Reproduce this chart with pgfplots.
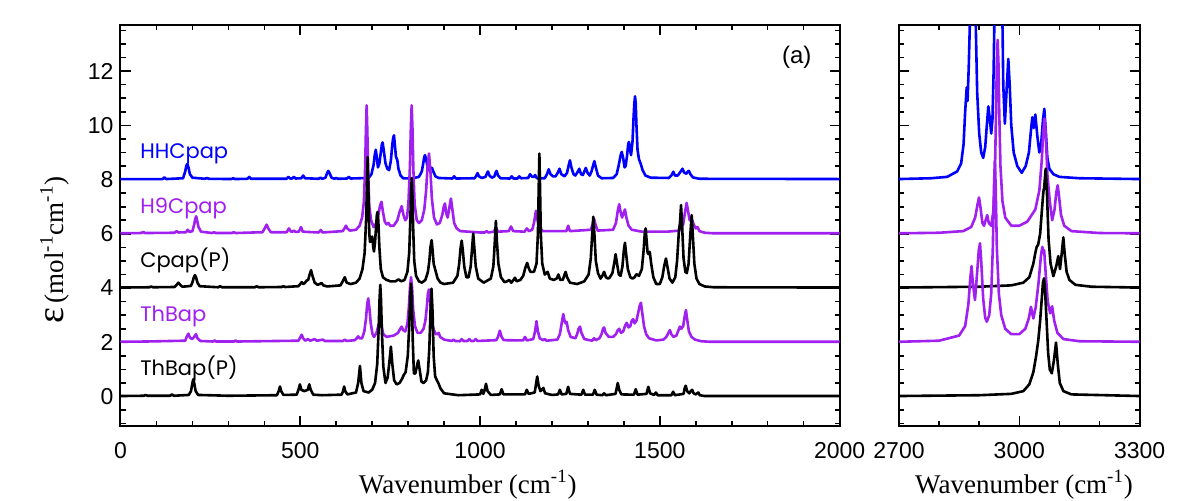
\documentclass[border=0pt]{standalone}
\usepackage{fontspec}
\usepackage{pgfplots}
\pgfplotsset{compat=1.18}
\setmainfont{Liberation Serif}
\newfontfamily\ticksf{Liberation Sans}
\newfontfamily\lblsf{Poppins}
\definecolor{myblue}{RGB}{0,0,255}
\definecolor{mypurple}{RGB}{160,32,240}
\pgfplotsset{
 myaxis/.style={
  scale only axis, height=200.7pt, ymin=-1.1, ymax=13.7,
  axis line style={line width=1pt},
  tick style={line width=0.8pt, black},
  major tick length=5pt, minor tick length=2.5pt,
  tick align=inside,
  ytick={0,2,...,12}, minor ytick={-1,-0.5,...,13.5},
  tick label style={font=\ticksf\fontsize{11.5}{12}\selectfont},
  xticklabel style={yshift=-4.5pt},
  /pgf/number format/assume math mode=true,
  /pgf/number format/1000 sep={},
  every axis x label/.style={at={(axis description cs:0.5,0)}, anchor=base, yshift=-33.5pt, font=\fontsize{13.5}{14}\selectfont},
  clip=true,
  every axis plot/.append style={line width=1.3pt, line join=round, mark=none},
 },
}
\tikzset{lbl/.style={anchor=base west, inner sep=0pt, font=\lblsf\fontsize{10.5}{11}\selectfont}}
\begin{document}
\begin{tikzpicture}
\useasboundingbox (0,0) rectangle (600pt,250pt);
% ---------------- left panel ----------------
\begin{axis}[myaxis, at={(60.25pt,36.8pt)}, anchor=south west, width=359.55pt,
  xmin=0, xmax=2000, xtick={0,500,1000,1500,2000}, minor xtick={0,100,...,2000},
  xlabel={Wavenumber (cm\textsuperscript{-1})},
  every axis x label/.append style={at={(axis description cs:0.483,0)}},
]
% HHCpap
\addplot[myblue] coordinates {(0,8.02) (117,8.02) (122,8.08) (127,8.02) (174,8.05) (180,8.3) (183,8.5) (186,8.58) (189,8.45) (193,8.2) (200,8.07) (235,8.03) (240,8.06) (245,8.03) (308,8.02) (313,8.05) (318,8.02) (353,8.03) (358,8.1) (363,8.03) (462,8.03) (467,8.1) (472,8.04) (477,8.04) (482,8.1) (487,8.04) (503,8.05) (508,8.15) (513,8.05) (551,8.03) (556,8.07) (561,8.03) (570,8.07) (575,8.25) (578,8.32) (581,8.25) (587,8.07) (595,8.03) (600,8.06) (605,8.03) (630,8.04) (635,8.1) (640,8.04) (690,8.06) (698,8.2) (704,8.55) (707,8.9) (710,9.1) (713,8.8) (716,8.45) (720,8.6) (724,9.0) (727,9.3) (729,9.37) (732,9.1) (737,8.6) (742,8.4) (747,8.35) (752,8.7) (756,9.3) (758.5,9.55) (760.6,9.63) (763,9.3) (766,8.85) (770,8.71) (773,8.4) (779,8.15) (786,8.05) (810,8.04) (830,8.1) (838,8.3) (842,8.6) (845,8.85) (847,8.9) (850,8.75) (855,8.4) (858,8.35) (862,8.42) (866,8.44) (870,8.3) (876,8.12) (885,8.06) (923,8.04) (928,8.12) (933,8.04) (985,8.05) (990,8.15) (993,8.24) (997,8.12) (1005,8.06) (1015,8.1) (1019,8.22) (1022,8.3) (1026,8.15) (1033,8.07) (1040,8.12) (1043,8.25) (1046,8.32) (1050,8.15) (1057,8.05) (1083,8.04) (1088,8.12) (1093,8.04) (1104,8.04) (1109,8.12) (1114,8.05) (1134,8.06) (1139,8.2) (1145,8.1) (1150,8.1) (1153,8.17) (1158,8.05) (1180,8.05) (1186,8.2) (1191,8.38) (1196,8.2) (1203,8.12) (1210,8.12) (1216,8.25) (1221,8.4) (1226,8.2) (1235,8.12) (1242,8.25) (1246,8.5) (1250,8.71) (1254,8.45) (1260,8.2) (1265,8.15) (1270,8.25) (1276,8.4) (1281,8.2) (1286,8.17) (1290,8.3) (1294,8.43) (1299,8.25) (1305,8.15) (1310,8.3) (1314,8.5) (1318,8.68) (1322,8.45) (1328,8.15) (1338,8.05) (1370,8.06) (1380,8.2) (1386,8.55) (1391,8.9) (1394,9.02) (1398,8.8) (1402,8.45) (1405,8.5) (1409,8.9) (1412,9.3) (1414,9.39) (1417,9.1) (1420,8.9) (1424,9.4) (1427,10.3) (1429,10.8) (1431,11.07) (1433,10.8) (1435,10.0) (1438,9.1) (1442,8.75) (1447,8.58) (1452,8.35) (1460,8.15) (1475,8.07) (1525,8.06) (1532,8.15) (1537.5,8.29) (1542,8.15) (1550,8.15) (1558,8.3) (1563,8.4) (1568,8.25) (1574,8.22) (1578,8.3) (1581,8.32) (1585,8.2) (1592,8.08) (1610,8.03) (2000,8.02)};
% H9Cpap
\addplot[mypurple] coordinates {(0,6.02) (58,6.03) (63,6.07) (68,6.03) (150,6.04) (156,6.1) (161,6.05) (182,6.06) (187,6.15) (192,6.07) (200,6.1) (205,6.35) (208,6.55) (210.5,6.65) (213,6.5) (217,6.25) (224,6.08) (255,6.03) (260,6.06) (265,6.03) (310,6.03) (315,6.06) (320,6.03) (395,6.06) (401,6.2) (406.5,6.34) (411,6.2) (418,6.06) (462,6.06) (468.5,6.2) (474,6.08) (478,6.08) (482,6.12) (487,6.07) (496,6.08) (502,6.25) (507,6.08) (551,6.05) (557,6.14) (562,6.05) (618,6.1) (623,6.2) (627,6.3) (631,6.2) (638,6.12) (655,6.15) (665,6.3) (672,6.6) (677,7.2) (680.5,8.5) (682.5,9.8) (684.6,10.74) (686.5,9.8) (688.5,8.4) (692,7.0) (697,6.5) (704,6.25) (712,6.4) (718,6.75) (722,7.05) (726,7.18) (730,6.8) (735,6.45) (740,6.35) (745,6.4) (750,6.3) (760,6.3) (770,6.5) (776,6.8) (782,7.02) (787,6.7) (792,6.5) (797,6.6) (801,7.2) (805,8.5) (807.5,9.9) (809.8,10.74) (812,9.9) (814.5,8.4) (818,7.1) (824,6.5) (830,6.4) (838,6.5) (845,6.9) (850,7.6) (854,8.5) (858,8.96) (862,8.3) (866,7.3) (872,6.6) (880,6.35) (888,6.4) (895,6.7) (899,7.0) (902.4,7.12) (906,6.75) (910,6.6) (915,7.0) (919,7.3) (923,6.9) (928,6.4) (935,6.2) (945,6.1) (1000,6.05) (1013,6.05) (1018,6.1) (1023,6.05) (1038,6.08) (1044,6.22) (1050,6.08) (1080,6.1) (1086,6.27) (1092,6.1) (1124,6.08) (1130,6.2) (1136,6.1) (1145,6.15) (1150,6.4) (1155.5,6.85) (1160,6.5) (1166,6.2) (1175,6.1) (1240,6.1) (1245,6.3) (1250,6.1) (1308,6.15) (1313,6.35) (1317,6.56) (1321,6.35) (1327,6.12) (1370,6.15) (1378,6.4) (1383,6.85) (1387,7.09) (1391,6.8) (1395,6.6) (1399,6.75) (1403,6.9) (1407,6.6) (1413,6.3) (1422,6.15) (1450,6.08) (1520,6.08) (1555,6.12) (1565,6.35) (1570,6.8) (1574.6,7.14) (1579,6.8) (1583,6.5) (1589,6.56) (1594,6.35) (1600,6.2) (1605,6.25) (1610,6.1) (1625,6.04) (1650,6.02) (2000,6.02)};
% Cpap(P)
\addplot[black] coordinates {(0,4.02) (80,4.03) (85,4.06) (90,4.03) (150,4.04) (156,4.12) (161,4.2) (166,4.12) (172,4.05) (196,4.08) (201,4.25) (204,4.4) (207,4.48) (210,4.4) (214,4.2) (220,4.07) (272,4.03) (277,4.07) (282,4.03) (374,4.03) (379,4.07) (384,4.03) (448,4.04) (453,4.07) (458,4.04) (495,4.07) (500,4.15) (504,4.22) (508,4.15) (512,4.18) (518,4.28) (522,4.3) (526,4.5) (530,4.66) (534,4.45) (540,4.2) (548,4.12) (554,4.15) (559,4.19) (564,4.1) (575,4.06) (612,4.1) (618,4.25) (624,4.4) (629,4.2) (640,4.15) (655,4.2) (665,4.35) (673,4.7) (679,5.3) (683,6.5) (685.5,7.8) (687.4,8.83) (689.5,7.6) (692,6.0) (694,5.7) (697,5.8) (700,5.9) (703,5.5) (705,5.35) (708,5.7) (711,6.3) (713,6.7) (715,6.81) (717,6.5) (720,5.5) (724,4.7) (730,4.4) (740,4.3) (745,4.28) (750,4.25) (765,4.25) (773,4.32) (781,4.25) (790,4.3) (798,4.6) (803,5.3) (806,6.5) (808,7.5) (810,8.05) (812,7.4) (814,6.2) (817,5.0) (822,4.45) (830,4.25) (838,4.2) (848,4.3) (855,4.6) (859,5.0) (862,5.5) (865.4,5.77) (868,5.4) (871,4.9) (874,4.75) (877,4.6) (882,4.35) (890,4.2) (900,4.15) (925,4.2) (937,4.45) (942,4.9) (946,5.5) (949,5.75) (952,5.4) (956,4.8) (962,4.4) (968,4.4) (974,4.8) (978,5.5) (981,6.01) (984,5.5) (988,4.8) (995,4.35) (1010,4.2) (1030,4.35) (1037,4.8) (1041,5.7) (1044,6.48) (1047,5.7) (1051,4.9) (1058,4.4) (1068,4.22) (1075,4.25) (1081,4.3) (1087,4.2) (1093,4.3) (1097,4.38) (1102,4.25) (1112,4.3) (1120,4.45) (1126,4.75) (1131,4.93) (1135,4.75) (1140,4.6) (1150,4.6) (1157,4.9) (1161,6.0) (1163,7.6) (1165,8.96) (1167,7.6) (1169,6.0) (1173,4.9) (1180,4.5) (1188,4.6) (1194,4.35) (1205,4.3) (1213,4.35) (1218,4.5) (1223,4.3) (1230,4.3) (1235,4.5) (1238,4.6) (1242,4.4) (1250,4.2) (1270,4.15) (1290,4.25) (1302,4.5) (1308,5.1) (1312,6.0) (1315,6.63) (1318,6.0) (1322,5.0) (1328,4.55) (1335,4.35) (1340,4.45) (1345,4.6) (1350,4.4) (1356,4.35) (1360,4.38) (1368,4.55) (1373,4.9) (1377,5.25) (1381,4.9) (1386,4.5) (1391,4.45) (1396,4.8) (1400,5.4) (1403,5.67) (1406,5.3) (1411,4.7) (1418,4.4) (1424,4.35) (1430,4.4) (1434,4.5) (1437,4.5) (1442,4.45) (1450,4.7) (1455,5.4) (1458,6.0) (1460.5,6.2) (1463,5.8) (1466,5.3) (1469,5.25) (1472,5.34) (1476,4.9) (1482,4.4) (1490,4.15) (1500,4.15) (1507,4.4) (1512,4.8) (1517,5.09) (1521,4.8) (1527,4.35) (1535,4.2) (1543,4.4) (1548,5.0) (1553,6.1) (1556,6.4) (1559,7.06) (1562,6.3) (1566,5.1) (1571,4.6) (1575,4.55) (1580,4.9) (1584,5.8) (1588.5,6.69) (1592,5.9) (1596,4.9) (1602,4.35) (1610,4.15) (1625,4.06) (1650,4.03) (2000,4.02)};
% ThBap
\addplot[mypurple] coordinates {(0,2.02) (70,2.03) (180,2.06) (184,2.2) (188.6,2.32) (193,2.18) (199,2.12) (205,2.2) (210,2.3) (214,2.15) (222,2.05) (258,2.03) (262,2.07) (266,2.03) (316,2.03) (320,2.07) (324,2.03) (495,2.06) (500,2.18) (504,2.28) (508,2.15) (514,2.06) (521,2.12) (528,2.06) (540,2.12) (546,2.06) (563,2.1) (568,2.05) (619,2.05) (624,2.1) (629,2.05) (652,2.08) (657,2.15) (661,2.22) (665,2.15) (672,2.15) (678,2.4) (683,2.9) (686,3.4) (689,3.62) (692,3.3) (696,2.7) (701,2.3) (705,2.2) (712,2.35) (717,2.6) (722,2.85) (726,2.6) (731,2.3) (740,2.2) (760,2.25) (772,2.35) (778,2.5) (782,2.58) (786,2.45) (792,2.4) (798,2.7) (802,3.3) (805,4.0) (808,4.4) (811,4.0) (814,3.2) (819,2.6) (826,2.35) (835,2.35) (843,2.5) (848,2.8) (852,3.3) (855,3.8) (858,3.95) (861,3.6) (865,2.9) (870,2.5) (877,2.3) (881,2.3) (885,2.35) (889,2.2) (900,2.1) (921,2.05) (926,2.1) (931,2.05) (944,2.04) (949,2.12) (954,2.05) (965,2.05) (970,2.12) (975,2.05) (983,2.05) (988,2.12) (993,2.05) (1045,2.08) (1050,2.2) (1055,2.43) (1060,2.2) (1066,2.08) (1120,2.07) (1125,2.2) (1130,2.07) (1148,2.12) (1153,2.4) (1157,2.78) (1161,2.4) (1166,2.15) (1175,2.08) (1180,2.12) (1185,2.06) (1215,2.1) (1222,2.3) (1227,2.7) (1231.5,3.04) (1235,2.8) (1238,2.7) (1241,2.75) (1245,2.45) (1252,2.2) (1265,2.15) (1270,2.3) (1274,2.5) (1278,2.58) (1282,2.35) (1290,2.12) (1312,2.06) (1317,2.15) (1322,2.08) (1332,2.15) (1338,2.3) (1342,2.5) (1345,2.55) (1349,2.35) (1358,2.2) (1370,2.2) (1378,2.3) (1383,2.45) (1387,2.5) (1392,2.35) (1398,2.4) (1403,2.6) (1408,2.72) (1413,2.55) (1418,2.6) (1422,2.8) (1426,2.85) (1430,2.7) (1435,2.8) (1440,3.1) (1444,3.35) (1447.5,3.46) (1451,3.1) (1456,2.6) (1462,2.3) (1470,2.15) (1490,2.07) (1510,2.1) (1518,2.2) (1524,2.35) (1528,2.45) (1532,2.3) (1538,2.2) (1546,2.25) (1552,2.45) (1556,2.58) (1560,2.5) (1565,2.6) (1569,2.95) (1572.6,3.19) (1576,2.85) (1581,2.4) (1588,2.2) (1598,2.1) (1615,2.04) (1640,2.02) (2000,2.02)};
% ThBap(P)
\addplot[black] coordinates {(0,0.02) (65,0.03) (70,0.06) (75,0.03) (138,0.03) (143,0.08) (148,0.03) (190,0.06) (196,0.2) (200,0.5) (202.5,0.64) (205,0.5) (209,0.2) (216,0.06) (300,0.03) (435,0.05) (440,0.2) (443.6,0.37) (447,0.2) (453,0.06) (490,0.07) (495,0.25) (499,0.45) (503,0.25) (511,0.2) (521,0.25) (525,0.45) (529,0.25) (536,0.07) (560,0.05) (615,0.07) (619,0.2) (622,0.37) (625,0.2) (631,0.08) (655,0.15) (661,0.5) (666,1.13) (670,0.5) (676,0.2) (690,0.15) (700,0.25) (708,0.5) (714,1.2) (718,2.5) (720.5,3.6) (722.5,4.12) (724.5,3.6) (727,2.4) (731,1.1) (737,0.5) (743,0.7) (748,1.3) (752,1.84) (756,1.2) (761,0.6) (768,0.45) (776,0.5) (783,0.65) (788,0.8) (793,0.9) (799,1.5) (803,2.6) (806,3.7) (808,4.16) (810,3.7) (813,2.0) (816,0.85) (820,0.85) (824,1.1) (828,1.33) (832,1.0) (837,0.55) (843,0.5) (850,0.6) (855,0.9) (859,1.8) (862,3.1) (865,3.98) (868,3.1) (871,1.5) (875,0.75) (880,0.6) (884,0.5) (890,0.3) (900,0.12) (940,0.05) (1000,0.08) (1004.5,0.25) (1009,0.1) (1012,0.2) (1016.5,0.47) (1021,0.2) (1030,0.06) (1055,0.08) (1060,0.27) (1065,0.08) (1125,0.08) (1130,0.25) (1135,0.1) (1152,0.15) (1155,0.4) (1159,0.74) (1163,0.4) (1168,0.2) (1172,0.25) (1176,0.32) (1181,0.12) (1200,0.06) (1217,0.08) (1222,0.25) (1227,0.08) (1240,0.1) (1245,0.36) (1250,0.1) (1282,0.07) (1287,0.25) (1292,0.07) (1314,0.07) (1319,0.25) (1324,0.07) (1340,0.05) (1345,0.12) (1350,0.05) (1377,0.1) (1380,0.3) (1383,0.5) (1387,0.25) (1393,0.08) (1428,0.07) (1433,0.27) (1438,0.07) (1463,0.1) (1468,0.36) (1473,0.12) (1484,0.06) (1489,0.15) (1494,0.05) (1532,0.05) (1537,0.18) (1542,0.05) (1566,0.1) (1569,0.3) (1572,0.4) (1576,0.2) (1582,0.12) (1586,0.2) (1590,0.25) (1594,0.12) (1600,0.08) (1604,0.12) (1607,0.15) (1611,0.05) (1625,0.02) (2000,0.02)};
\node[lbl, text=myblue] at (axis cs:54,8.77) {HHCpap};
\node[lbl, text=mypurple] at (axis cs:54,6.75) {H9Cpap};
\node[lbl, text=black] at (axis cs:54,4.76) {Cpap(P)};
\node[lbl, text=mypurple] at (axis cs:54,2.76) {ThBap};
\node[lbl, text=black] at (axis cs:54,0.77) {ThBap(P)};
\node[font=\ticksf\fontsize{12}{13}\selectfont] at (axis cs:1881,12.5) {(a)};
\end{axis}
% ---------------- right panel ----------------
\begin{axis}[myaxis, at={(449.5pt,36.8pt)}, anchor=south west, width=120.3pt,
  xmin=2700, xmax=3300, xtick={2700,3000,3300}, minor xtick={2700,2800,...,3300},
  yticklabels={},
  xlabel={Wavenumber (cm\textsuperscript{-1})},
  every axis x label/.append style={at={(axis description cs:0.52,0)}},
]
\addplot[myblue] coordinates {(2700,8.02) (2780,8.05) (2820,8.1) (2845,8.3) (2855,8.6) (2861,9.3) (2865,10.5) (2868.8,11.4) (2871,10.9) (2874,12.2) (2878,14.5) (2882,18) (2887,18) (2891,14) (2895,11.2) (2900,9.7) (2905,9.0) (2910,8.8) (2915,9.2) (2919,10.0) (2922.8,10.7) (2926,10.3) (2930,9.7) (2933,10.2) (2936,12) (2939,15) (2942,18) (2948,15) (2953,18) (2957,15) (2960,11.5) (2964,10.06) (2968,11.2) (2972.6,12.45) (2976,11.5) (2980,10.0) (2986,9.0) (2995,8.5) (3006,8.25) (3016,8.5) (3024,9.0) (3029,9.8) (3032.5,10.3) (3036,9.9) (3040,10.4) (3045,9.6) (3050,9.0) (3055,9.4) (3059,10.2) (3062.4,10.61) (3066,9.8) (3070,8.8) (3075,8.4) (3085,8.2) (3100,8.1) (3150,8.05) (3300,8.02)};
\addplot[mypurple] coordinates {(2700,6.02) (2800,6.04) (2860,6.1) (2880,6.25) (2890,6.6) (2896,7.1) (2899.5,7.34) (2903,7.0) (2908,6.4) (2912,6.3) (2916,6.5) (2920,6.69) (2924,6.4) (2930,6.3) (2935,6.8) (2939,8.0) (2942,10.5) (2944,12.3) (2946,13.15) (2948,12.3) (2950,10.5) (2953,8.5) (2958,7.2) (2965,6.6) (2980,6.3) (3000,6.3) (3020,6.45) (3040,6.9) (3050,7.6) (3056,8.7) (3060,9.8) (3063,10.25) (3066,9.7) (3070,8.2) (3076,7.2) (3082,6.5) (3088,6.9) (3092,7.5) (3095.7,7.79) (3099,7.4) (3104,6.7) (3112,6.3) (3130,6.1) (3200,6.03) (3300,6.02)};
\addplot[black] coordinates {(2700,4.02) (2900,4.05) (2980,4.1) (3010,4.2) (3025,4.4) (3035,4.9) (3040,5.3) (3043.4,5.52) (3047,5.6) (3052,6.0) (3056,6.8) (3060,7.55) (3062,7.7) (3065.8,8.4) (3069,7.5) (3073,5.8) (3078,4.9) (3085,4.44) (3092,4.8) (3097.3,5.18) (3101.5,4.7) (3106,5.3) (3109.8,5.87) (3113,5.3) (3118,4.6) (3125,4.3) (3140,4.12) (3180,4.05) (3300,4.02)};
\addplot[mypurple] coordinates {(2700,2.02) (2800,2.06) (2850,2.25) (2865,2.6) (2873,3.4) (2878,4.4) (2881,4.81) (2884,4.2) (2889.5,3.56) (2895,4.6) (2899,5.4) (2902,5.65) (2905,5.0) (2910,3.6) (2915,2.9) (2919,2.76) (2925,3.0) (2930,3.8) (2934,5.5) (2937,7.8) (2939,8.7) (2941,7.8) (2944,5.5) (2949,3.8) (2955,3.0) (2965,2.5) (2980,2.3) (3000,2.3) (3015,2.5) (3024,2.9) (3029,3.31) (3035,2.88) (3041,3.3) (3048,4.2) (3054,5.2) (3057.5,5.52) (3060,5.3) (3062,5.4) (3066,4.5) (3071,3.5) (3077,3.07) (3082,3.33) (3087,2.8) (3095,2.35) (3110,2.12) (3150,2.04) (3300,2.02)};
\addplot[black] coordinates {(2700,0.02) (2900,0.05) (2980,0.1) (3010,0.2) (3025,0.45) (3035,0.9) (3042,1.5) (3047.5,2.09) (3052,2.8) (3056,3.6) (3059,4.2) (3061.6,4.36) (3064,4.0) (3068,2.8) (3072,1.6) (3076,1.0) (3081,0.86) (3086,1.3) (3091.6,1.99) (3096,1.2) (3101,0.5) (3110,0.2) (3130,0.08) (3300,0.02)};
\end{axis}
% y label
\node[rotate=90, anchor=base, inner sep=0pt, font=\fontsize{13.5}{14}\selectfont] at (31.5pt,125pt) {{\fontsize{19}{19}\selectfont ε}\,(mol\textsuperscript{-1}cm\textsuperscript{-1})};
\end{tikzpicture}
\end{document}
